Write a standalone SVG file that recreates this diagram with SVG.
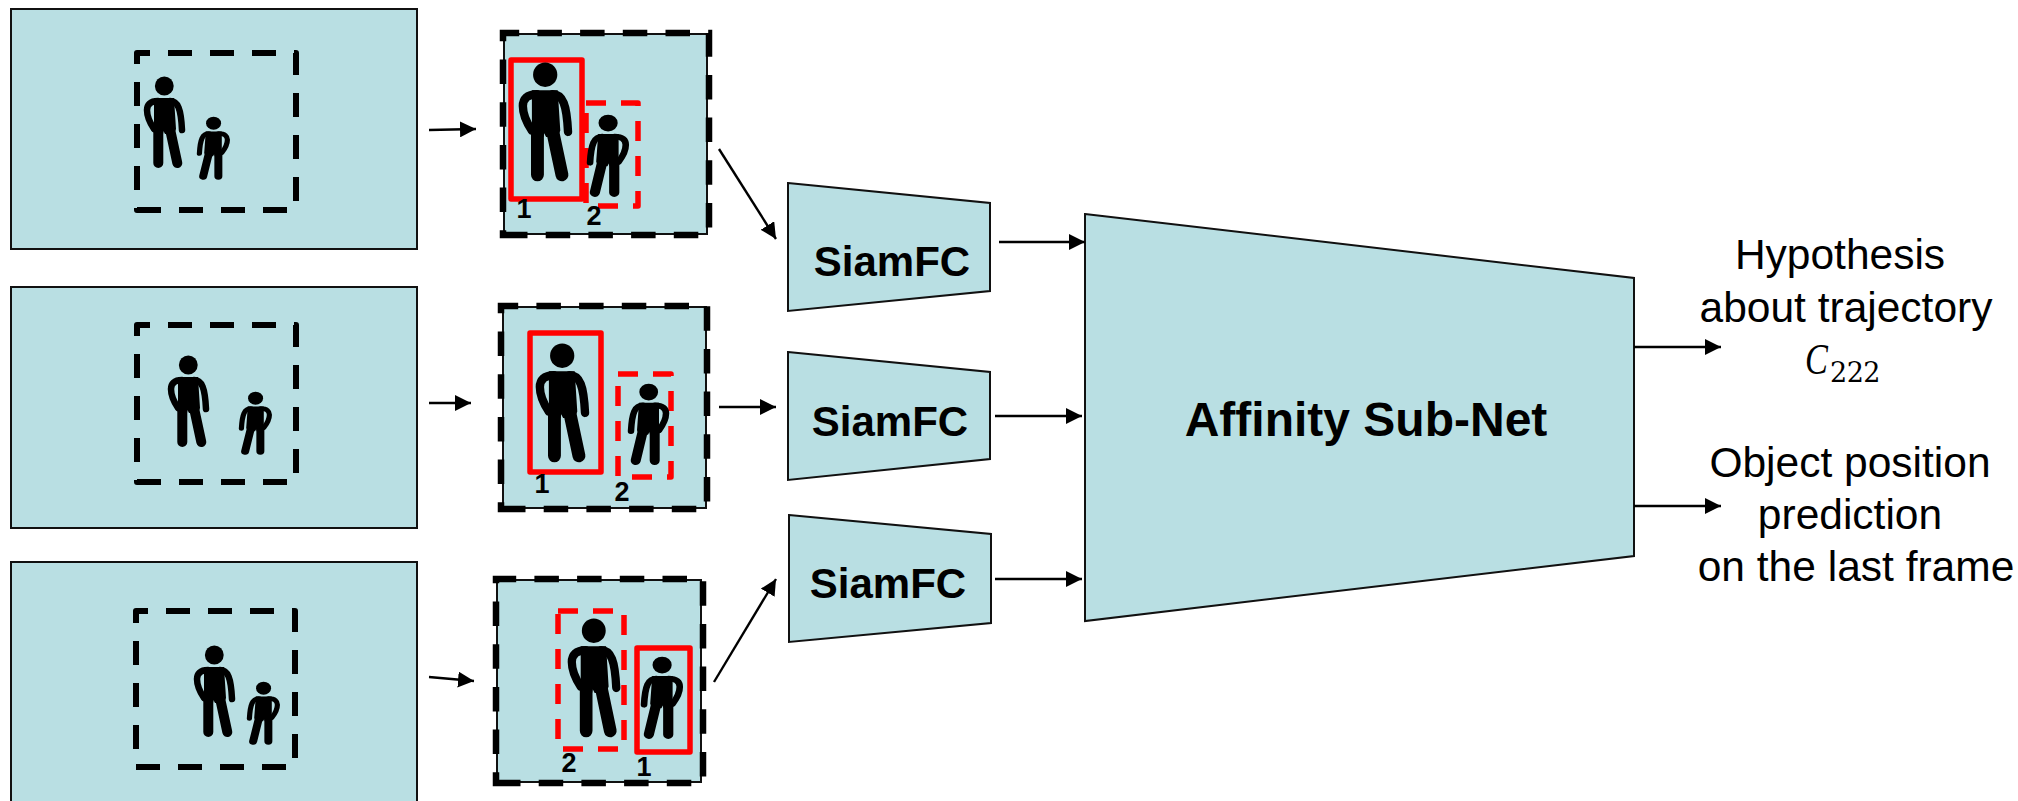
<svg xmlns="http://www.w3.org/2000/svg" xmlns:xlink="http://www.w3.org/1999/xlink" width="2018" height="801" viewBox="0 0 2018 801">
<style>
.bg{fill:#b9dfe3;stroke:#111;stroke-width:2}
.dk{fill:none;stroke:#000;stroke-width:6;stroke-dasharray:24 18;stroke-linejoin:round}
.dc{fill:none;stroke:#000;stroke-width:6.5;stroke-dasharray:24.5 18.2}
.rs{fill:none;stroke:#f00;stroke-width:5.5;stroke-linejoin:round}
.rd{fill:none;stroke:#f00;stroke-width:5.5;stroke-dasharray:20 15;stroke-linejoin:round}
.ln{fill:none;stroke:#000;stroke-width:2.4;marker-end:url(#ah)}
.b{font-family:"Liberation Sans",Arial,sans-serif;font-weight:700;fill:#000;text-anchor:middle}
.t{font-family:"Liberation Sans",Arial,sans-serif;font-size:42.5px;fill:#000;text-anchor:middle}
.n{font-size:27px}
.s{font-size:42px}
</style>
<defs>
<marker id="ah" markerUnits="userSpaceOnUse" markerWidth="18" markerHeight="16" refX="16" refY="8" orient="auto"><path d="M0 0L16 8L0 16Z" fill="#000"/></marker>
<g id="man">
<ellipse cx="20.3" cy="9" rx="9.4" ry="9.4"/>
<path d="M10 21H30L32 52L30 57H21L19.5 54L19 57H10Z"/>
<path d="M14.3 52V86M26 52L33.3 86" fill="none" stroke="#000" stroke-width="10" stroke-linecap="round"/>
<path d="M14 24C6 24 3 28 3 33C3 40 6 46 10 52M26 24C34 24 37 32 38 53" fill="none" stroke="#000" stroke-width="6.5" stroke-linecap="round"/>
</g>
<g id="kid" transform="translate(41 0) scale(-1 1)"><use xlink:href="#man"/></g>
</defs>

<g id="frame1">
<rect class="bg" x="11" y="9" width="406" height="240"/>
<path class="dk" d="M137 210H296V53H137Z"/>
<use xlink:href="#man" transform="translate(144 77)"/>
<use xlink:href="#kid" transform="translate(197 117) scale(.8 .69)"/>
</g>
<g id="frame2">
<rect class="bg" x="11" y="287" width="406" height="241"/>
<path class="dk" d="M137 482H296V325H137Z"/>
<use xlink:href="#man" transform="translate(168 356)"/>
<use xlink:href="#kid" transform="translate(239 392) scale(.8 .69)"/>
</g>
<g id="frame3">
<rect class="bg" x="11" y="562" width="406" height="245"/>
<path class="dk" d="M136 767H295V611H136Z"/>
<use xlink:href="#man" transform="translate(194 646)"/>
<use xlink:href="#kid" transform="translate(247 682) scale(.8 .69)"/>
</g>

<g id="crop1">
<rect class="bg" x="504" y="34" width="203" height="200"/>
<path class="dc" d="M503 235H709V33H503Z"/>
<rect class="rd" x="586" y="103" width="52" height="103"/>
<rect class="rs" x="511" y="60" width="71" height="139"/>
<use xlink:href="#man" transform="translate(519 63) scale(1.29 1.3)"/>
<use xlink:href="#kid" transform="translate(587 115) scale(1.02 .9)"/>
<text class="b n" x="524" y="218">1</text>
<text class="b n" x="594" y="225">2</text>
</g>
<g id="crop2">
<rect class="bg" x="503" y="307" width="203" height="201"/>
<path class="dc" d="M501 509H707V306H501Z"/>
<rect class="rs" x="530" y="333" width="71" height="139"/>
<rect class="rd" x="618" y="374" width="53" height="103"/>
<use xlink:href="#man" transform="translate(536 344) scale(1.29 1.3)"/>
<use xlink:href="#kid" transform="translate(628 384) scale(1.0 .89)"/>
<text class="b n" x="542" y="493">1</text>
<text class="b n" x="622" y="501">2</text>
</g>
<g id="crop3">
<rect class="bg" x="497" y="580" width="204" height="202"/>
<path class="dc" d="M496 783H703V579H496Z"/>
<rect class="rd" x="558" y="611" width="66" height="138"/>
<rect class="rs" x="637" y="648" width="53" height="104"/>
<use xlink:href="#man" transform="translate(568 619) scale(1.27 1.3)"/>
<use xlink:href="#kid" transform="translate(641 657) scale(1.02 .9)"/>
<text class="b n" x="569" y="772">2</text>
<text class="b n" x="644" y="776">1</text>
</g>

<g id="siam1"><path class="bg" d="M788 183L990 203V291L788 311Z"/><text class="b s" x="892" y="276">SiamFC</text></g>
<g id="siam2"><path class="bg" d="M788 352L990 372V459L788 480Z"/><text class="b s" x="890" y="436">SiamFC</text></g>
<g id="siam3"><path class="bg" d="M789 515L991 534V623L789 642Z"/><text class="b s" x="888" y="598">SiamFC</text></g>
<g id="affinity"><path class="bg" d="M1085 214L1634 278V556L1085 621Z"/><text class="b" font-size="48" x="1366" y="436">Affinity Sub-Net</text></g>

<g id="connectors">
<path class="ln" d="M429 130L476 129"/>
<path class="ln" d="M429 403L471 403"/>
<path class="ln" d="M429 677L474 681"/>
<path class="ln" d="M719 149L776 239"/>
<path class="ln" d="M719 407L776 407"/>
<path class="ln" d="M714 682L776 579"/>
<path class="ln" d="M999 242L1085 242"/>
<path class="ln" d="M995 416L1082 416"/>
<path class="ln" d="M995 579L1082 579"/>
<path class="ln" d="M1634 347L1721 347"/>
<path class="ln" d="M1634 506L1721 506"/>
</g>

<g id="output1">
<text class="t" x="1840" y="269">Hypothesis</text>
<text class="t" x="1846" y="322">about trajectory</text>
<text transform="translate(1805 374) scale(.78 1)" font-family="'Liberation Serif',serif" font-style="italic" font-size="44" fill="#000">C</text>
<text x="1830" y="382" font-family="'DejaVu Serif',serif" font-size="27" letter-spacing="-.5" fill="#000">222</text>
</g>
<g id="output2">
<text class="t" x="1850" y="477">Object position</text>
<text class="t" x="1850" y="529">prediction</text>
<text class="t" x="1856" y="581">on the last frame</text>
</g>
</svg>
